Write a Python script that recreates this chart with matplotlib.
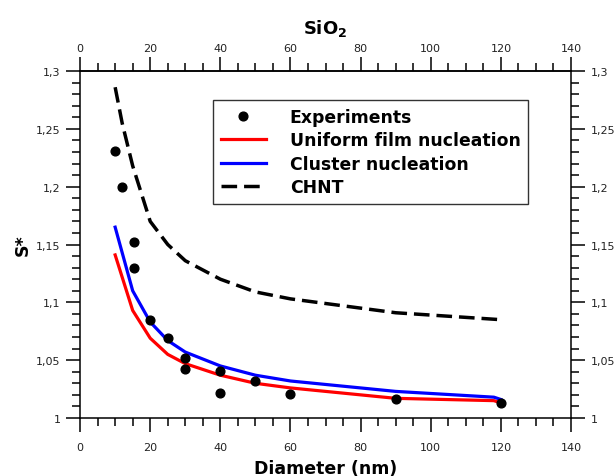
import matplotlib
matplotlib.use("Agg")
import matplotlib.pyplot as plt
from matplotlib.ticker import MultipleLocator, FuncFormatter

# experimental points
exp_d = [10, 12, 15.3, 15.4, 20, 25, 30, 30, 40, 40, 50, 60, 90, 120]
exp_s = [1.231, 1.200, 1.152, 1.130, 1.085, 1.069, 1.052, 1.042, 1.041, 1.022, 1.032, 1.021, 1.016, 1.013]

# model curves
mod_d = [10, 15, 20, 25, 30, 40, 50, 60, 90, 118, 120]
uniform_s = [1.141, 1.093, 1.069, 1.055, 1.047, 1.037, 1.030, 1.026, 1.017, 1.015, 1.013]
cluster_s = [1.165, 1.110, 1.083, 1.067, 1.057, 1.045, 1.037, 1.032, 1.023, 1.018, 1.016]

chnt_d = [10, 12, 15, 20, 25, 30, 40, 50, 60, 70, 80, 90, 100, 120]
chnt_s = [1.286, 1.255, 1.218, 1.170, 1.150, 1.136, 1.120, 1.109, 1.103, 1.099, 1.095, 1.091, 1.089, 1.085]


def comma_fmt(v, pos):
    txt = f"{v:.2f}".rstrip("0").rstrip(".")
    return txt.replace(".", ",")


fig = plt.figure(figsize=(6.16, 4.77), dpi=100)
ax = fig.add_axes([0.130, 0.1216, 0.797, 0.7274])

ax.plot(mod_d, uniform_s, color="#ff0000", lw=2.3, label="Uniform film nucleation", zorder=3)
ax.plot(mod_d, cluster_s, color="#0000ff", lw=2.3, label="Cluster nucleation", zorder=3)
ax.plot(chnt_d, chnt_s, color="black", lw=2.5, ls=(0, (4.5, 2)), label="CHNT", zorder=3)
ax.plot(exp_d, exp_s, "o", color="black", ms=6.3, label="Experiments", zorder=4)

ax.set_xlim(0, 140)
ax.set_ylim(1.0, 1.3)
ax.xaxis.set_major_locator(MultipleLocator(20))
ax.xaxis.set_minor_locator(MultipleLocator(5))
ax.yaxis.set_major_locator(MultipleLocator(0.05))
ax.yaxis.set_minor_locator(MultipleLocator(0.01))
ax.yaxis.set_major_formatter(FuncFormatter(comma_fmt))

tick_kw = dict(direction="out", labelsize=8, width=1.1, labelcolor="#222222")
ax.tick_params(which="both", top=False, right=True, labelright=True, **tick_kw)
ax.tick_params(axis="x", which="major", pad=7)
ax.tick_params(axis="y", which="major", pad=4)
ax.tick_params(which="major", length=10)
ax.tick_params(which="minor", length=6)

top = ax.secondary_xaxis("top")
top.xaxis.set_major_locator(MultipleLocator(20))
top.xaxis.set_minor_locator(MultipleLocator(5))
top.tick_params(which="both", **tick_kw)
top.tick_params(which="major", length=10, pad=3)
top.tick_params(which="minor", length=6)

for sp in list(ax.spines.values()) + list(top.spines.values()):
    sp.set_linewidth(1.1)

ax.set_xlabel("Diameter (nm)", fontsize=12.5, fontweight="bold", labelpad=5)
ax.set_ylabel("S*", fontsize=12.5, fontweight="bold", labelpad=3)
top.set_xlabel(r"$\mathbf{SiO_2}$", fontsize=13, labelpad=7)

handles, labels = ax.get_legend_handles_labels()
order = [3, 0, 1, 2]
leg = ax.legend([handles[i] for i in order], [labels[i] for i in order],
                loc="upper left", bbox_to_anchor=(0.271, 0.916),
                prop={"weight": "bold", "size": 12.4}, frameon=True, fancybox=False,
                edgecolor="black", handlelength=2.6, borderpad=0.45, labelspacing=0.32,
                handletextpad=1.4, borderaxespad=0)
leg.get_frame().set_linewidth(1.0)

fig.savefig("out.png", dpi=100)
